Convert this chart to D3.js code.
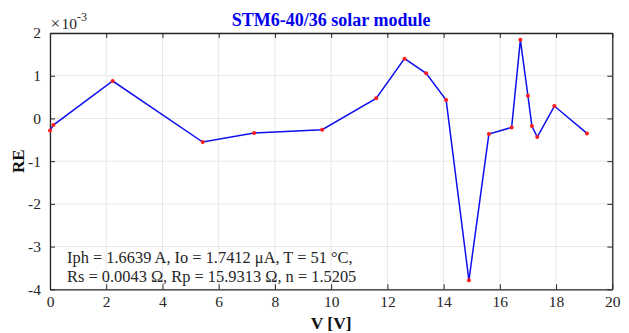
<!DOCTYPE html>
<html>
<head>
<meta charset="utf-8">
<script src="https://cdn.jsdelivr.net/npm/d3@7"></script>
<style>
  html, body { margin: 0; padding: 0; background: #fff; }
  svg { display: block; }
  text { font-family: "Liberation Serif", "Times New Roman", serif; }
</style>
</head>
<body>
<svg id="chart" width="629" height="333"></svg>
<script>
// Voltage samples [V]
const voltage = [0, 0.12, 2.23, 5.43, 7.26, 9.68, 11.6, 12.61, 13.38, 14.09, 14.9, 15.61, 16.42, 16.73, 17.0, 17.14, 17.33, 17.94, 19.1];
// Relative error (×10^-3)
const relErr = [-0.28, -0.155, 0.876, -0.553, -0.342, -0.264, 0.47, 1.40, 1.056, 0.43, -3.79, -0.365, -0.21, 1.84, 0.53, -0.178, -0.436, 0.29, -0.35];

const xTicks = [0, 2, 4, 6, 8, 10, 12, 14, 16, 18, 20];
const yTicks = [-4, -3, -2, -1, 0, 1, 2];

const titleText = "STM6-40/36 solar module";
const xLabel = "V [V]";
const yLabel = "RE";
const paramLines = [
  "Iph = 1.6639 A, Io = 1.7412 \u03bcA, T = 51 \u00b0C,",
  "Rs = 0.0043 \u03a9, Rp = 15.9313 \u03a9, n = 1.5205"
];

const svg = d3.select("#chart");
const m = { left: 50, right: 612.3, top: 33, bottom: 289.3 };

const x = d3.scaleLinear().domain([0, 20]).range([m.left, m.right]);
const y = d3.scaleLinear().domain([-4, 2]).range([m.bottom, m.top]);

// grid
const grid = svg.append("g");
grid.selectAll("line.gx").data(xTicks).enter().append("line")
  .attr("x1", d => x(d)).attr("x2", d => x(d))
  .attr("y1", m.top).attr("y2", m.bottom)
  .attr("stroke", "#e6e6e6").attr("stroke-width", 1);
grid.selectAll("line.gy").data(yTicks).enter().append("line")
  .attr("y1", d => y(d)).attr("y2", d => y(d))
  .attr("x1", m.left).attr("x2", m.right)
  .attr("stroke", "#e6e6e6").attr("stroke-width", 1);

// axes with inward ticks on all four sides
const tickLen = 5;
const axisColor = "#262626";
const axB = svg.append("g").attr("transform", `translate(0,${m.bottom})`)
  .call(d3.axisBottom(x).tickValues(xTicks).tickSizeInner(-tickLen).tickSizeOuter(0).tickPadding(7));
const axT = svg.append("g").attr("transform", `translate(0,${m.top})`)
  .call(d3.axisTop(x).tickValues(xTicks).tickSizeInner(-tickLen).tickSizeOuter(0).tickFormat(""));
const axL = svg.append("g").attr("transform", `translate(${m.left},0)`)
  .call(d3.axisLeft(y).tickValues(yTicks).tickSizeInner(-tickLen).tickSizeOuter(0).tickPadding(9).tickFormat(d3.format("d")));
const axR = svg.append("g").attr("transform", `translate(${m.right},0)`)
  .call(d3.axisRight(y).tickValues(yTicks).tickSizeInner(-tickLen).tickSizeOuter(0).tickFormat(""));

[axB, axT, axL, axR].forEach(g => {
  g.select(".domain").attr("stroke", axisColor).attr("stroke-width", 1.3);
  g.selectAll(".tick line").attr("stroke", axisColor).attr("stroke-width", 1);
  g.selectAll(".tick text").attr("fill", "#262626")
    .style("font-family", '"Liberation Serif", "Times New Roman", serif')
    .style("font-size", "15.5px");
});
axL.selectAll(".tick text").text(d => d < 0 ? "-" + Math.abs(d) : d);

// exponent marker
const ex = svg.append("text").attr("x", 50.5).attr("y", 29).attr("fill", "#262626").style("font-size", "15.5px");
ex.append("tspan").style("font-size", "17px").text("\u00d7");
ex.append("tspan").attr("dx", 1.5).text("10");
ex.append("tspan").attr("dy", -8).style("font-size", "12px").text("-3");

// title
svg.append("text").attr("x", (m.left + m.right) / 2).attr("y", 26)
  .attr("text-anchor", "middle").attr("fill", "#0000ee")
  .style("font-size", "18px").style("font-weight", "bold").text(titleText);

// axis labels
svg.append("text").attr("x", (m.left + m.right) / 2).attr("y", 328.5)
  .attr("text-anchor", "middle").attr("fill", "#111")
  .style("font-size", "17.5px").style("font-weight", "bold").text(xLabel);
svg.append("text").attr("transform", `translate(24,${(m.top + m.bottom) / 2}) rotate(-90)`)
  .attr("text-anchor", "middle").attr("fill", "#111")
  .style("font-size", "17px").style("font-weight", "bold").text(yLabel);

// error curve
const pts = voltage.map((v, i) => [v, relErr[i]]);
svg.append("path").datum(pts)
  .attr("d", d3.line().x(d => x(d[0])).y(d => y(d[1])))
  .attr("fill", "none").attr("stroke", "#1010ee").attr("stroke-width", 1.5);
svg.selectAll("circle.pt").data(pts).enter().append("circle")
  .attr("cx", d => x(d[0])).attr("cy", d => y(d[1])).attr("r", 2)
  .attr("fill", "#ff1a1a");

// fitted parameters
svg.selectAll("text.param").data(paramLines).enter().append("text")
  .attr("x", 67).attr("y", (d, i) => 263 + i * 18.5)
  .attr("fill", "#262626").style("font-size", "16.4px").text(d => d);
</script>
</body>
</html>
